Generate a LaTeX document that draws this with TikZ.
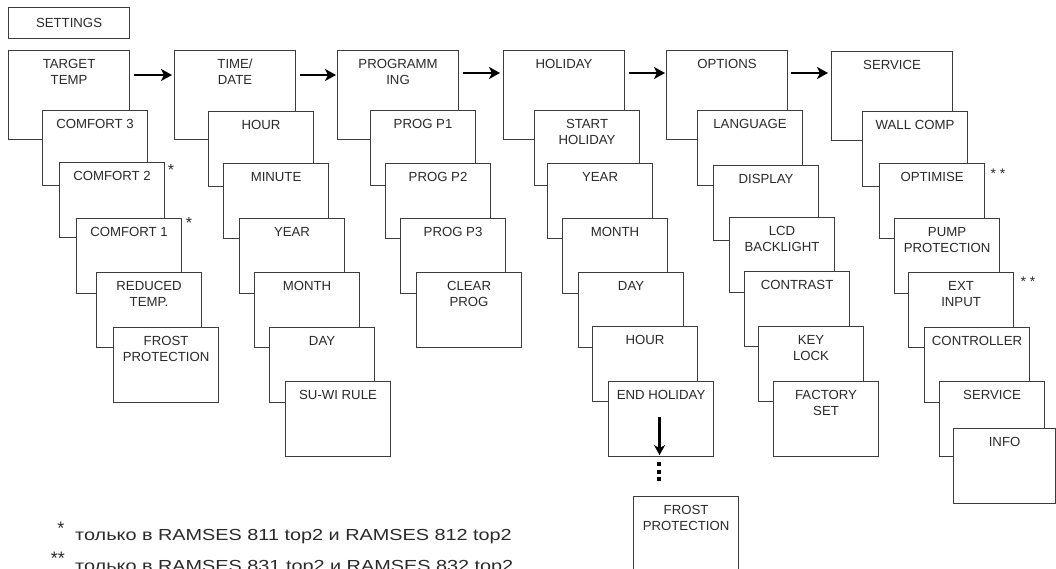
\documentclass[tikz,border=0pt]{standalone}
\usepackage{fontspec}
\setmainfont{Liberation Sans}
\usetikzlibrary{arrows.meta,calc}
\definecolor{lc}{HTML}{3C3C3C}
\definecolor{tc}{HTML}{2A2A2A}
\begin{document}
\begin{tikzpicture}[x=1pt,y=-1pt,
  bx/.style={draw=lc, fill=white, line width=1.1pt, anchor=north west, inner sep=0pt},
  mainbox/.style={bx, minimum width=121pt, minimum height=89pt},
  subbox/.style={bx, minimum width=105pt, minimum height=75pt},
  lbl/.style={anchor=north, align=center, inner sep=0pt, yshift=-9pt, text=tc, font=\fontsize{13.2}{16}\selectfont},
  arr/.style={line width=2.6pt, -{Stealth[length=11pt,width=12pt,inset=3pt]}},
  darr/.style={line width=2.2pt, -{Stealth[length=10pt,width=11pt,inset=3pt]}},
  dot/.style={fill=black, minimum size=3.5pt, inner sep=0pt},
  ast/.style={inner sep=0pt, text=tc, font=\fontsize{16}{16}\selectfont},
  ast2/.style={inner sep=0pt, text=tc, font=\fontsize{14}{14}\selectfont},
  fn/.style={inner sep=0pt, text=tc, xscale=1.24, font=\fontsize{16}{20}\selectfont},
]
\useasboundingbox (0,0) rectangle (1056,568);

% settings
\node[bx, minimum width=121pt, minimum height=31pt, font=\fontsize{13.2}{16}\selectfont, text=tc] (set) at (8,7) {SETTINGS};

% column 1
\node[mainbox, label={[lbl]north:{TARGET\\TEMP}}] (tt) at (8,50) {};
\node[subbox, label={[lbl]north:{COMFORT 3}}] (c3) at (42,110) {};
\node[subbox, label={[lbl]north:{COMFORT 2}}] (c2) at (59,162) {};
\node[subbox, label={[lbl]north:{COMFORT 1}}] (c1) at (76,218) {};
\node[subbox, label={[lbl]north:{REDUCED\\TEMP.}}] (rt) at (96,272) {};
\node[subbox, label={[lbl]north:{FROST\\PROTECTION}}] (fp1) at (113,327) {};

% column 2
\node[mainbox, label={[lbl]north:{TIME/\\DATE}}] (td) at (174,50) {};
\node[subbox, label={[lbl]north:{HOUR}}] (h1) at (208,111) {};
\node[subbox, label={[lbl]north:{MINUTE}}] (mi) at (223,163) {};
\node[subbox, label={[lbl]north:{YEAR}}] (y1) at (239,218) {};
\node[subbox, label={[lbl]north:{MONTH}}] (m1) at (254,272) {};
\node[subbox, label={[lbl]north:{DAY}}] (d1) at (269,327) {};
\node[subbox, label={[lbl]north:{SU-WI RULE}}] (sw) at (285,381) {};

% column 3
\node[mainbox, label={[lbl]north:{PROGRAMM\\ING}}] (pr) at (337,50) {};
\node[subbox, label={[lbl]north:{PROG P1}}] (p1) at (370,110) {};
\node[subbox, label={[lbl]north:{PROG P2}}] (p2) at (385,163) {};
\node[subbox, label={[lbl]north:{PROG P3}}] (p3) at (400,218) {};
\node[subbox, label={[lbl]north:{CLEAR\\PROG}}] (cp) at (416,272) {};

% column 4
\node[mainbox, label={[lbl]north:{HOLIDAY}}] (ho) at (503,50) {};
\node[subbox, label={[lbl]north:{START\\HOLIDAY}}] (sh) at (534,110) {};
\node[subbox, label={[lbl]north:{YEAR}}] (y2) at (547,163) {};
\node[subbox, label={[lbl]north:{MONTH}}] (m2) at (562,218) {};
\node[subbox, label={[lbl]north:{DAY}}] (d2) at (578,272) {};
\node[subbox, label={[lbl]north:{HOUR}}] (h2) at (592,326) {};
\node[subbox, label={[lbl]north:{END HOLIDAY}}] (eh) at (608,381) {};
\node[subbox, label={[lbl]north:{FROST\\PROTECTION}}] (fp2) at (633,496) {};

% column 5
\node[mainbox, label={[lbl]north:{OPTIONS}}] (op) at (666,50) {};
\node[subbox, label={[lbl]north:{LANGUAGE}}] (la) at (697,110) {};
\node[subbox, label={[lbl]north:{DISPLAY}}] (di) at (713,165) {};
\node[subbox, label={[lbl]north:{LCD\\BACKLIGHT}}] (lcd) at (729,217) {};
\node[subbox, label={[lbl]north:{CONTRAST}}] (co) at (744,271) {};
\node[subbox, label={[lbl]north:{KEY\\LOCK}}] (kl) at (758,326) {};
\node[subbox, label={[lbl]north:{FACTORY\\SET}}] (fs) at (773,381) {};

% column 6
\node[mainbox, label={[lbl]north:{SERVICE}}] (se) at (831,51) {};
\node[subbox, label={[lbl]north:{WALL COMP}}] (wc) at (862,111) {};
\node[subbox, label={[lbl]north:{OPTIMISE}}] (ot) at (879,163) {};
\node[subbox, label={[lbl]north:{PUMP\\PROTECTION}}] (pp) at (894,218) {};
\node[subbox, label={[lbl]north:{EXT\\INPUT}}] (ei) at (908,272) {};
\node[subbox, label={[lbl]north:{CONTROLLER}}] (ct) at (924,327) {};
\node[subbox, label={[lbl]north:{SERVICE}}] (sv) at (939,381) {};
\node[subbox, minimum width=102pt, label={[lbl]north:{INFO}}] (in) at (953,428) {};

% arrows
\draw[arr] ($(tt.north east)+(4,25)$) -- ($(td.north west)+(-2,25)$);
\draw[arr] ($(td.north east)+(4,25)$) -- ($(pr.north west)+(-1,25)$);
\draw[arr] ($(pr.north east)+(4,23)$) -- ($(ho.north west)+(-3,23)$);
\draw[arr] ($(ho.north east)+(4,23)$) -- ($(op.north west)+(-1,23)$);
\draw[arr] ($(op.north east)+(3,23)$) -- ($(se.north west)+(-3,22)$);

% down arrow and dots
\draw[darr] ($(eh.south)+(-1.5,-40)$) -- ($(eh.south)+(-1.5,-2)$);
\node[dot] (dt1) at (659,464) {};
\node[dot] (dt2) at (659,472) {};
\node[dot] (dt3) at (659,479) {};

% asterisks
\node[ast] (a1) at (171,169.5) {*};
\node[ast] (a2) at (189,222.5) {*};
\node[ast2] (a3) at (998,174) {* *};
\node[ast2] (a4) at (1028,282) {* *};

% footnotes
\node[ast, font=\fontsize{18}{18}\selectfont] (s1) at (61,528) {*};
\node[fn, anchor=base west] (f1) at (75,540) {только в RAMSES 811 top2 и RAMSES 812 top2};
\node[ast, font=\fontsize{18}{18}\selectfont] (s2) at (58,558) {**};
\node[fn, anchor=base west] (f2) at (75,571) {только в RAMSES 831 top2 и RAMSES 832 top2};
\end{tikzpicture}
\end{document}
